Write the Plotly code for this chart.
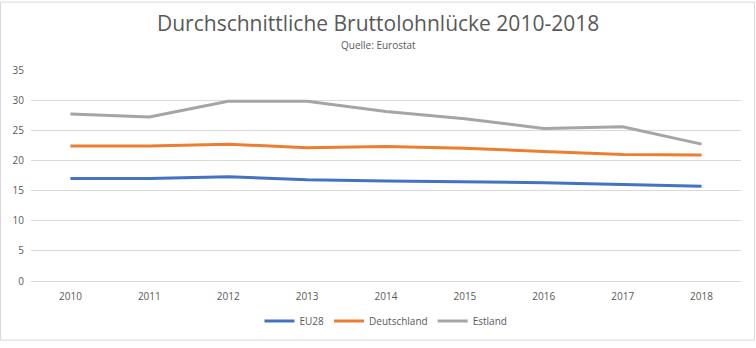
import plotly.graph_objects as go

years = ["2010", "2011", "2012", "2013", "2014", "2015", "2016", "2017", "2018"]
eu28 = [17.0, 17.0, 17.3, 16.8, 16.6, 16.5, 16.3, 16.0, 15.7]
deutschland = [22.4, 22.4, 22.7, 22.1, 22.3, 22.0, 21.5, 21.0, 20.9]
estland = [27.7, 27.2, 29.8, 29.8, 28.1, 26.9, 25.3, 25.6, 22.7]
y_ticks = [0, 5, 10, 15, 20, 25, 30, 35]

series = [("EU28", eu28, "#4472C4"), ("Deutschland", deutschland, "#ED7D31"), ("Estland", estland, "#A5A5A5")]

fig = go.Figure()
for name, vals, col in series:
    fig.add_trace(go.Scatter(x=years, y=vals, name=name, mode="lines",
                             line=dict(color=col, width=3)))

W, H = 756, 348
ml, mr, mt, mb = 31, 15, 70, 62
pw, ph = W - ml - mr, H - mt - mb

fig.update_layout(
    width=W, height=H,
    margin=dict(l=ml, r=mr, t=mt, b=mb),
    paper_bgcolor="white", plot_bgcolor="white",
    font=dict(family="Open Sans, Liberation Sans, sans-serif", color="#595959", size=11),
    xaxis=dict(type="category", range=[-0.5, len(years) - 0.5], showgrid=False, showline=True,
               linecolor="#D9D9D9", ticks="", tickfont=dict(size=10, color="#595959"),
               zeroline=False, ticklabelstandoff=6),
    yaxis=dict(range=[0, 35], tickvals=y_ticks, showgrid=True, gridcolor="#D9D9D9",
               gridwidth=1, zeroline=False, ticks="", tickfont=dict(size=10, color="#595959"),
               ticklabelstandoff=6),
    legend=dict(orientation="h", x=0.5, xanchor="center", y=-(327 - 286) / ph, yanchor="middle",
                font=dict(size=10, color="#595959"), itemwidth=30),
    showlegend=True,
    annotations=[
        dict(text="Durchschnittliche Bruttolohnlücke 2010-2018", xref="paper", yref="paper",
             x=(378 - ml) / pw, y=1 + (mt - 22) / ph, xanchor="center", yanchor="middle",
             showarrow=False, font=dict(size=21, color="#595959")),
        dict(text="Quelle: Eurostat", xref="paper", yref="paper",
             x=(378 - ml) / pw, y=1 + (mt - 44) / ph, xanchor="center", yanchor="middle",
             showarrow=False, font=dict(size=10, color="#595959")),
    ],
    shapes=[dict(type="rect", xref="paper", yref="paper",
                 x0=-(ml - 0.5) / pw, x1=1 + (mr - 1.5) / pw,
                 y0=-(mb - 1.5) / ph, y1=1 + (mt - 0.5) / ph,
                 line=dict(color="#D9D9D9", width=1), layer="below")],
)

fig.write_html("out.html")
